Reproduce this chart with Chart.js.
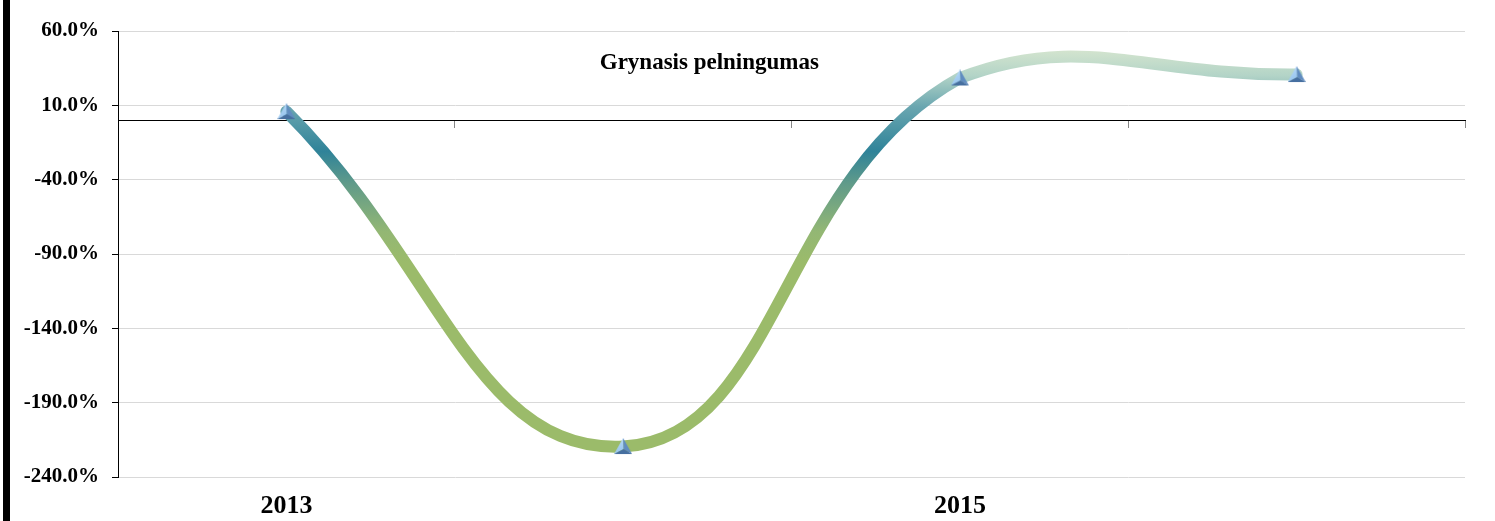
<!DOCTYPE html>
<html>
<head>
<meta charset="utf-8">
<script src="https://cdn.jsdelivr.net/npm/chart.js@4/dist/chart.umd.min.js"></script>
<style>
  html, body { margin: 0; padding: 0; background: #fff; }
  #wrap { position: relative; width: 1495px; height: 521px; }
  #edge { position: absolute; left: 3px; top: 0; width: 7px; height: 521px; background: #000; }
</style>
</head>
<body>
<div id="wrap">
  <canvas id="chart"></canvas>
  <div id="edge"></div>
</div>
<script>
// Grynasis pelningumas – metai ir reikšmės (%)
const years = ['2013', '2014', '2015', '2016'];
const pelningumas = [5.8, -219.5, 28.4, 30.7];
const chartTitle = 'Grynasis pelningumas';

// y ašies ribos
const Y_MIN = -240;
const Y_MAX = 60;
const Y_STEP = 50;

const SERIF = "'Liberation Serif', 'Times New Roman', serif";

// linijos spalvų gradientas (vertikalus, pagal grafiko sritį)
const GRAD_STOPS = [
  [0.00, '#dbe8d2'],
  [0.04, '#d5e5cf'],
  [0.10, '#b3d4c7'],
  [0.17, '#6aa6b0'],
  [0.27, '#2f8399'],
  [0.34, '#5f9a8a'],
  [0.45, '#93b774'],
  [0.52, '#9bbb6a'],
  [1.00, '#9bbb6a'],
];

let gradCache = null;
function lineGradient(context) {
  const { chart } = context;
  const area = chart.chartArea;
  if (!area) return '#31859c';
  const key = area.top + ':' + area.bottom;
  if (gradCache && gradCache.key === key) return gradCache.g;
  const g = chart.ctx.createLinearGradient(0, area.top, 0, area.bottom);
  GRAD_STOPS.forEach(([o, c]) => g.addColorStop(o, c));
  gradCache = { key, g };
  return g;
}

// trimatis trikampis žymeklis
function makeMarker() {
  const c = document.createElement('canvas');
  c.width = 18; c.height = 17;
  const x = c.getContext('2d');
  const top = [9, 0], bl = [0, 16], br = [18, 16], mid = [9.5, 11];
  const face = (pts, fill) => {
    x.beginPath();
    x.moveTo(pts[0][0], pts[0][1]);
    pts.slice(1).forEach((p) => x.lineTo(p[0], p[1]));
    x.closePath();
    x.fillStyle = fill;
    x.fill();
  };
  const lg = x.createLinearGradient(0, 0, 9, 16);
  lg.addColorStop(0, '#c0def9');
  lg.addColorStop(1, '#8fc0ec');
  face([top, bl, mid], lg);
  face([top, mid, br], '#608cc0');
  face([bl, br, mid], '#466fa0');
  return c;
}

// pavadinimas grafiko srities viduje
const innerTitle = {
  id: 'innerTitle',
  afterDatasetsDraw(chart) {
    const { ctx, chartArea } = chart;
    ctx.save();
    ctx.font = 'bold 23px ' + SERIF;
    ctx.fillStyle = '#000';
    ctx.textAlign = 'center';
    ctx.textBaseline = 'middle';
    ctx.fillText(chartTitle, chartArea.left + chartArea.width * 0.439, chartArea.top + chartArea.height * 0.072);
    ctx.restore();
  },
};

new Chart(document.getElementById('chart'), {
  type: 'line',
  data: {
    labels: years,
    datasets: [{
      label: chartTitle,
      data: pelningumas,
      borderColor: lineGradient,
      borderWidth: 12,
      borderCapStyle: 'round',
      tension: 0.45,
      fill: false,
      pointStyle: makeMarker(),
      pointRadius: 8,
      pointHoverRadius: 8,
    }],
  },
  options: {
    responsive: true,
    maintainAspectRatio: false,
    animation: false,
    layout: { padding: { top: 31, right: 30, bottom: 0, left: 0 } },
    plugins: {
      legend: { display: false },
      tooltip: { enabled: false },
    },
    scales: {
      x: {
        position: 'bottom',
        offset: true,
        grid: { display: false, drawTicks: false },
        border: { display: false },
        afterFit: (scale) => { scale.height = 44; },
        ticks: {
          autoSkip: false,
          maxRotation: 0,
          padding: 14,
          color: '#000',
          font: { family: SERIF, size: 26, weight: 'bold' },
          callback: function (v, i) { return i % 2 === 0 ? this.getLabelForValue(v) : ''; },
        },
      },
      // ašis ties nuliu
      x2: {
        type: 'category',
        position: { y: 0 },
        offset: true,
        grid: { display: true, drawOnChartArea: false, drawTicks: true, tickLength: 7, offset: true, color: '#868686', tickColor: '#868686' },
        border: { display: true, color: '#000', width: 1 },
        ticks: { display: false },
      },
      y: {
        min: Y_MIN,
        max: Y_MAX,
        afterFit: (scale) => { scale.width = 118; },
        grid: { color: '#d9d9d9', tickColor: '#000', tickLength: 6 },
        border: { display: true, color: '#000', width: 1 },
        ticks: {
          stepSize: Y_STEP,
          padding: 13,
          color: '#000',
          font: { family: SERIF, size: 21, weight: 'bold' },
          callback: (v) => v.toFixed(1) + '%',
        },
      },
    },
  },
  plugins: [innerTitle],
});
</script>
</body>
</html>
